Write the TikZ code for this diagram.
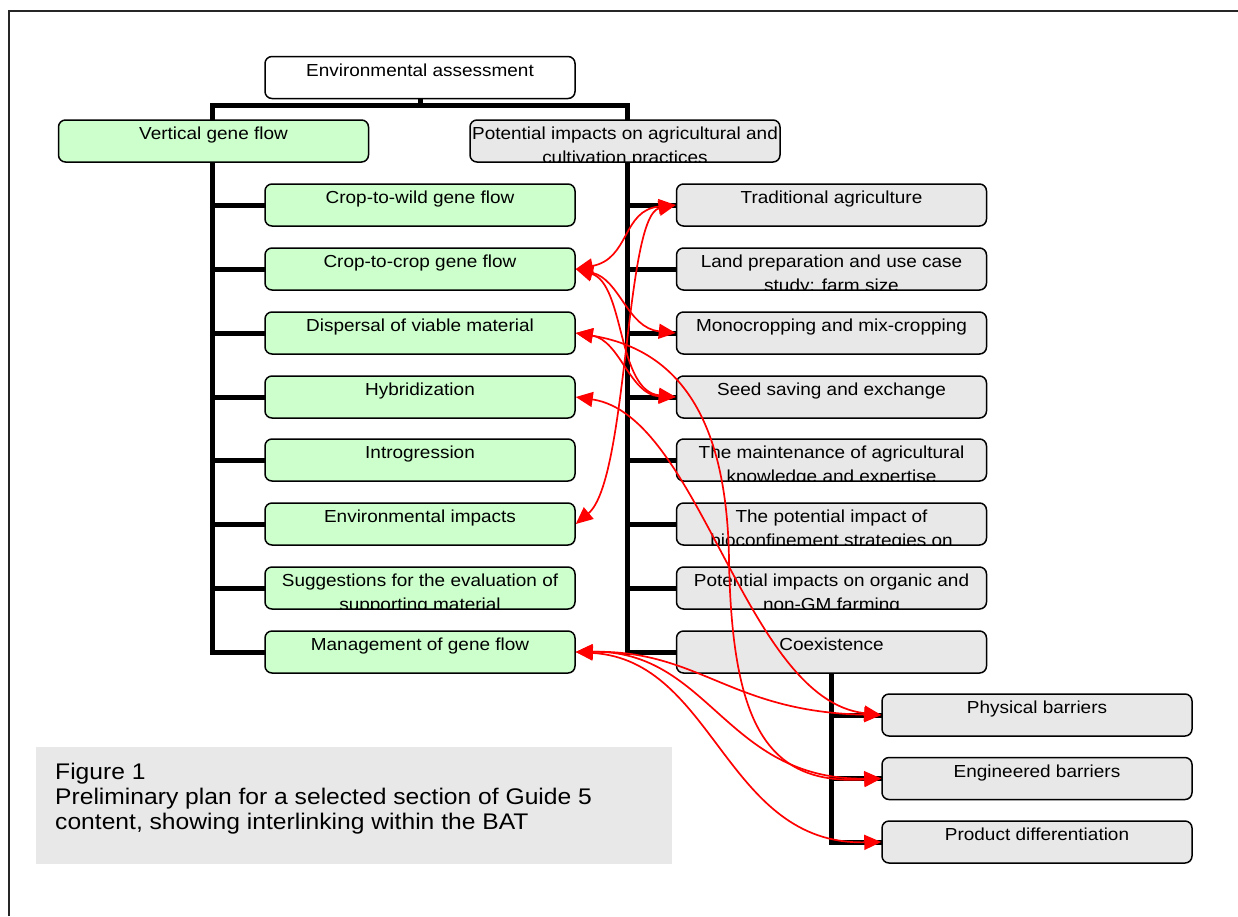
\documentclass[tikz,border=0pt]{standalone}
\usepackage{fontspec}
\setmainfont[FakeStretch=1.09]{Liberation Sans}
\usetikzlibrary{arrows.meta}
\definecolor{gfill}{HTML}{CCFFCC}
\definecolor{bfill}{HTML}{E8E8E8}
\tikzset{
  boxfont/.style={font=\fontsize{17.4}{23}\selectfont},
  nbox/.style n args={2}{draw=black, line width=1.5pt, rounded corners=7pt,
    minimum width=310pt, minimum height=42pt, inner sep=0pt,
    path picture={
      \node[anchor=base, inner sep=0pt, boxfont]
        at ([yshift=-19.5pt]path picture bounding box.north) {#1};
      \node[anchor=base, inner sep=0pt, boxfont]
        at ([yshift=-43.5pt]path picture bounding box.north) {#2};}},
  wbox/.style 2 args={nbox={#1}{#2}, fill=white},
  gbox/.style 2 args={nbox={#1}{#2}, fill=gfill},
  ybox/.style 2 args={nbox={#1}{#2}, fill=bfill},
  tree/.style={line width=5pt, line join=miter, draw=black},
  link/.style={draw=red, line width=1.7pt, <->, >={Triangle[length=17pt,width=15pt]}},
}
\begin{document}
\begin{tikzpicture}[x=1pt,y=-1pt]
\useasboundingbox (0,0) rectangle (1238,916);
% frame
\draw[line width=1.5pt, black!85] (9,916) -- (9,11) -- (1238,11);
% caption
\node[fill=bfill, minimum width=636pt, minimum height=117pt, anchor=north west, inner sep=0pt] (capbox) at (36,747) {};
\node[anchor=north west, inner sep=0pt, align=left, font=\fontsize{22.6}{25}\selectfont] (captext) at (55,762) {\strut Figure 1\\Preliminary plan for a selected section of Guide 5\\content, showing interlinking within the BAT};
% tree coordinates
\coordinate (tl) at (212,105);
\coordinate (tr) at (627,105);
\node[wbox={Environmental assessment}{}] (env) at (420,77.5) {};
% tree lines
\draw[tree] (env.south) -- (env.south |- tl);
\draw[tree] (265,652) -- (212,652) -- (tl) -- (tr) -- (627,652) -- (677,652);
\foreach \y in {205,269,333,397,460,524,588} {
  \draw[tree] (212,\y) -- (265,\y);
  \draw[tree] (627,\y) -- (677,\y);
}
\draw[tree] (831.5,673) -- (831.5,842) -- (882,842);
\draw[tree] (831.5,715) -- (882,715);
\draw[tree] (831.5,778.5) -- (882,778.5);
% top boxes
\node[gbox={Vertical gene flow}{}] (vgf) at (213.5,141) {};
\node[ybox={Potential impacts on agricultural and}{cultivation practices}] (pot) at (625,141) {};
% left column
\node[gbox={Crop-to-wild gene flow}{}] (c1) at (420,205) {};
\node[gbox={Crop-to-crop gene flow}{}] (c2) at (420,269) {};
\node[gbox={Dispersal of viable material}{}] (c3) at (420,333) {};
\node[gbox={Hybridization}{}] (c4) at (420,397) {};
\node[gbox={Introgression}{}] (c5) at (420,460) {};
\node[gbox={Environmental impacts}{}] (c6) at (420,524) {};
\node[gbox={Suggestions for the evaluation of}{supporting material}] (c7) at (420,588) {};
\node[gbox={Management of gene flow}{}] (c8) at (420,652) {};
% right column
\node[ybox={Traditional agriculture}{}] (r1) at (831.5,205) {};
\node[ybox={Land preparation and use case}{study: farm size}] (r2) at (831.5,269) {};
\node[ybox={Monocropping and mix-cropping}{}] (r3) at (831.5,333) {};
\node[ybox={Seed saving and exchange}{}] (r4) at (831.5,397) {};
\node[ybox={The maintenance of agricultural}{knowledge and expertise}] (r5) at (831.5,460) {};
\node[ybox={The potential impact of}{bioconfinement strategies on}] (r6) at (831.5,524) {};
\node[ybox={Potential impacts on organic and}{non-GM farming}] (r7) at (831.5,588) {};
\node[ybox={Coexistence}{}] (r8) at (831.5,652) {};
% coexistence children
\node[ybox={Physical barriers}{}] (p1) at (1037,715) {};
\node[ybox={Engineered barriers}{}] (e2) at (1037,778.5) {};
\node[ybox={Product differentiation}{}] (pd) at (1037,842) {};
% red links
\coordinate (via1) at (729,560);
\draw[link] (c2.east) .. controls (630,259) and (622,210) .. (r1.west);
\draw[link] (c2.east) .. controls (620,279) and (627,328) .. (r3.west);
\draw[link] (c2.east) .. controls (625,284) and (617,391) .. (r4.west);
\draw[link] (c3.east) .. controls (620,340) and (630,395) .. (r4.west);
\draw[link] (c3.east) .. controls (680,350) and (727,420) .. (via1) .. controls (732,730) and (770,785) .. (e2.west);
\draw[link] (c4.east) .. controls (700,415) and (745,700) .. (p1.west);
\draw[link] (c6.east) .. controls (628,480) and (625,215) .. (r1.west);
\draw[link] (c8.east) .. controls (700,650) and (730,712) .. (p1.west);
\draw[link] (c8.east) .. controls (710,650) and (725,780) .. (e2.west);
\draw[link] (c8.east) .. controls (715,660) and (725,845) .. (pd.west);
\end{tikzpicture}
\end{document}
